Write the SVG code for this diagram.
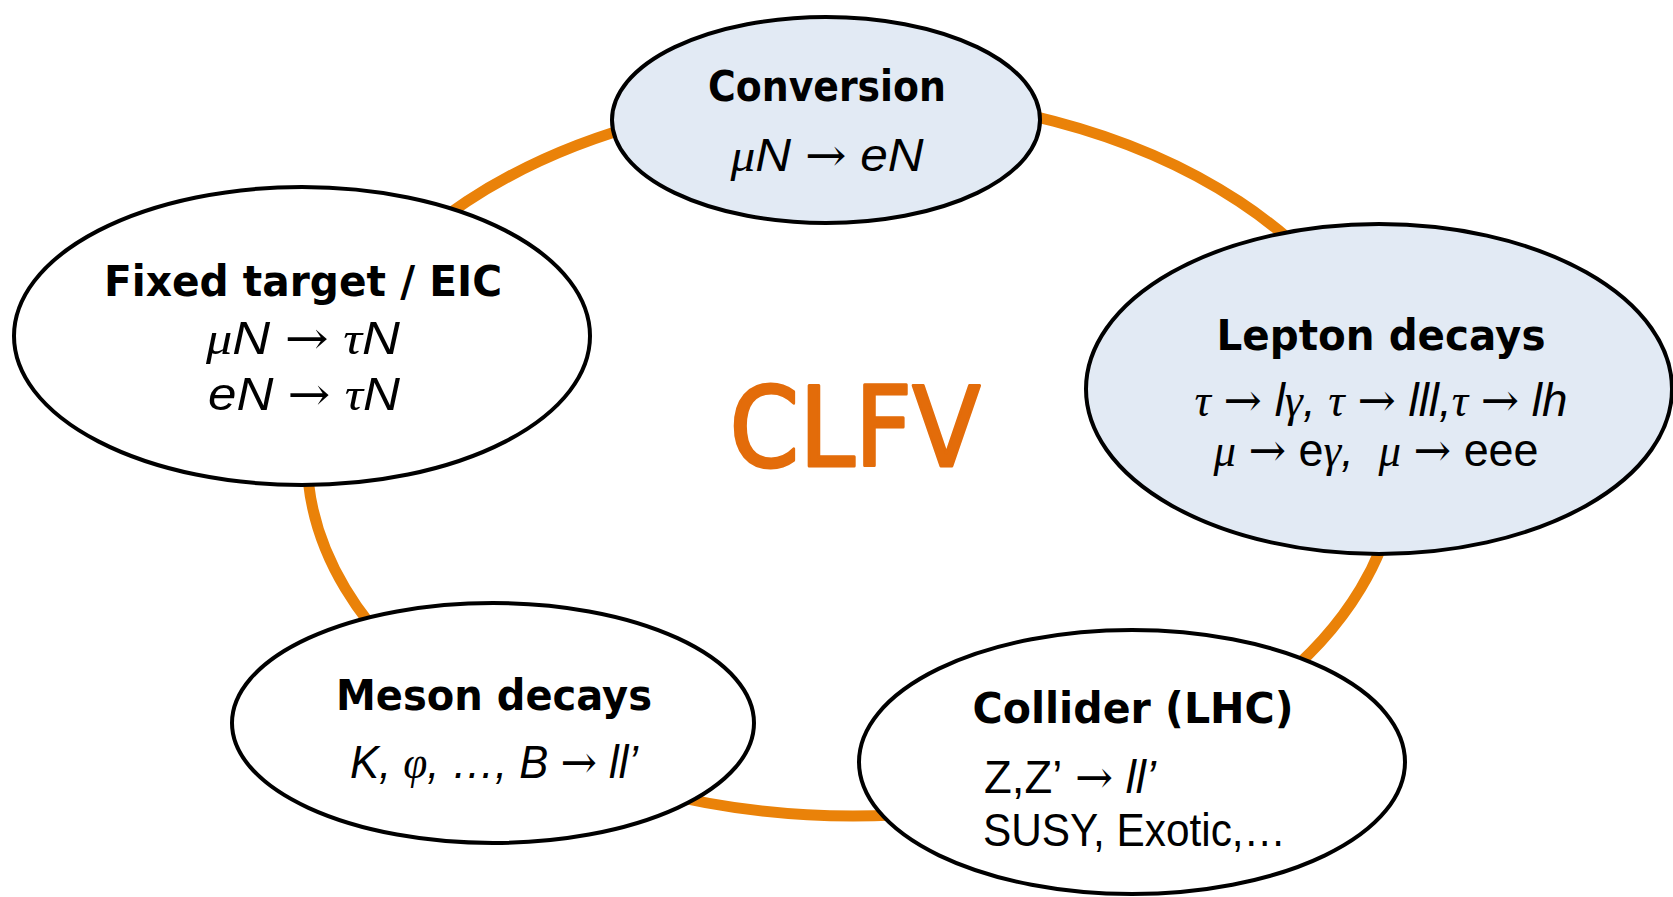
<svg xmlns="http://www.w3.org/2000/svg" width="1673" height="897" viewBox="0 0 1673 897">
  <style>
    .node { stroke: #000; stroke-width: 4; }
    .plain { fill: #fff; }
    .blue { fill: #E2EAF4; }
    .title { font-family: "Comic Sans MS", "DejaVu Sans", sans-serif; font-weight: bold; font-size: 42px; fill: #000; text-anchor: middle; }
    .math { font-family: "Liberation Sans", Arial, sans-serif; font-style: italic; font-size: 46px; fill: #000; text-anchor: middle; }
    .left { text-anchor: start; }
    .greek { font-family: "Liberation Serif", "DejaVu Serif", serif; font-style: italic; }
    .arr { font-family: "DejaVu Serif", "Liberation Serif", serif; font-style: normal; }
    .up { font-style: normal; }
  </style>

  <rect width="1673" height="897" fill="#fff"/>

  <!-- orange ring linking the experiment groups -->
  <g id="connectors">
    <ellipse cx="853" cy="456" rx="546" ry="360" fill="none" stroke="#EA8209" stroke-width="11"/>
  </g>

  <!-- central label -->
  <g id="center-label">
    <text x="855" y="466" font-family="'Comic Sans MS', 'DejaVu Sans', sans-serif" font-size="110" fill="#E36C0A" stroke="#E36C0A" stroke-width="3" stroke-linejoin="round" text-anchor="middle" textLength="251" lengthAdjust="spacingAndGlyphs">CLFV</text>
  </g>

  <g id="conversion">
    <ellipse class="node blue" cx="826" cy="120" rx="214" ry="103"/>
    <text class="title" x="827" y="101" textLength="238" lengthAdjust="spacingAndGlyphs">Conversion</text>
    <text class="math" x="827" y="171" textLength="193" lengthAdjust="spacingAndGlyphs"><tspan class="greek">μ</tspan>N <tspan class="arr">→</tspan> eN</text>
  </g>

  <g id="fixed-target">
    <ellipse class="node plain" cx="302" cy="336" rx="288" ry="149"/>
    <text class="title" x="303" y="296" textLength="398" lengthAdjust="spacingAndGlyphs">Fixed target / EIC</text>
    <text class="math" x="303" y="354" textLength="194" lengthAdjust="spacingAndGlyphs"><tspan class="greek">μ</tspan>N <tspan class="arr">→</tspan> <tspan class="greek">τ</tspan>N</text>
    <text class="math" x="304" y="410" textLength="192" lengthAdjust="spacingAndGlyphs">eN <tspan class="arr">→</tspan> <tspan class="greek">τ</tspan>N</text>
  </g>

  <g id="lepton-decays">
    <ellipse class="node blue" cx="1379" cy="389" rx="293" ry="165"/>
    <text class="title" x="1381" y="350" textLength="329" lengthAdjust="spacingAndGlyphs">Lepton decays</text>
    <text class="math" x="1381" y="416" textLength="373" lengthAdjust="spacingAndGlyphs"><tspan class="greek">τ</tspan> <tspan class="arr">→</tspan> l<tspan class="greek">γ</tspan>, <tspan class="greek">τ</tspan> <tspan class="arr">→</tspan> lll,<tspan class="greek">τ</tspan> <tspan class="arr">→</tspan> lh</text>
    <text class="math" x="1376" y="466" textLength="325" lengthAdjust="spacingAndGlyphs"><tspan class="greek">μ</tspan> <tspan class="arr">→</tspan> <tspan class="up">e</tspan><tspan class="greek">γ</tspan>,&#160; <tspan class="greek">μ</tspan> <tspan class="arr">→</tspan> <tspan class="up">eee</tspan></text>
  </g>

  <g id="meson-decays">
    <ellipse class="node plain" cx="493" cy="723" rx="261" ry="120"/>
    <text class="title" x="494" y="710" textLength="316" lengthAdjust="spacingAndGlyphs">Meson decays</text>
    <text class="math" x="494" y="778" font-size="44" textLength="288" lengthAdjust="spacingAndGlyphs">K, <tspan class="greek">φ</tspan>, …, B <tspan class="arr">→</tspan> ll’</text>
  </g>

  <g id="collider">
    <ellipse class="node plain" cx="1132" cy="762" rx="273" ry="132"/>
    <text class="title" x="1133" y="723" textLength="321" lengthAdjust="spacingAndGlyphs">Collider (LHC)</text>
    <text class="math left" x="984" y="793" textLength="172" lengthAdjust="spacingAndGlyphs"><tspan class="up">Z,Z’</tspan> <tspan class="arr">→</tspan> ll’</text>
    <text class="math left up" x="983" y="846" textLength="303" lengthAdjust="spacingAndGlyphs">SUSY, Exotic,…</text>
  </g>
</svg>
